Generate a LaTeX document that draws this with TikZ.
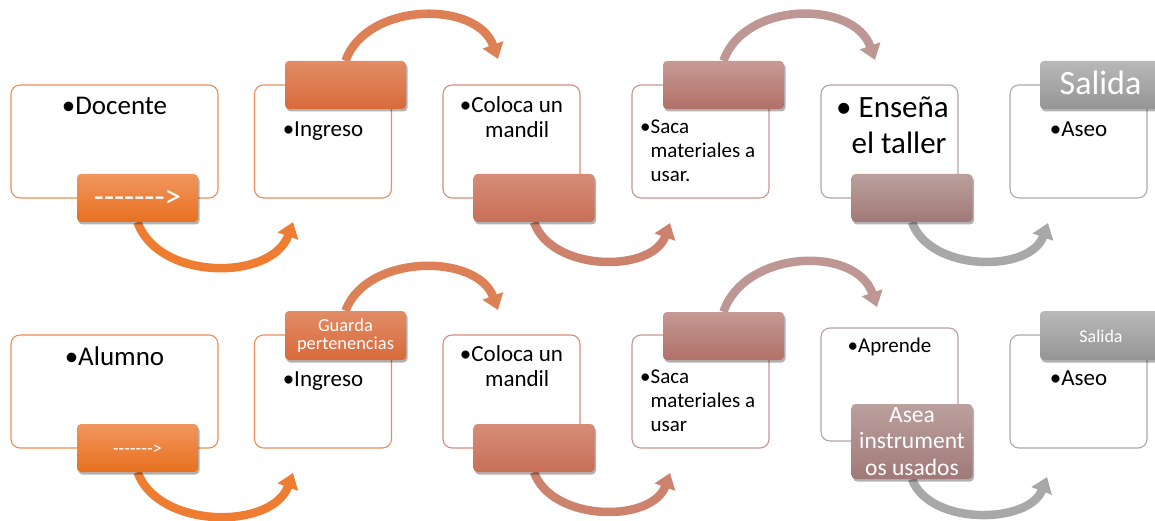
\documentclass[tikz,border=0pt]{standalone}
\usepackage{fontspec}
\setmainfont{Carlito}
\usetikzlibrary{arrows.meta,shadows,backgrounds}
\newcommand\fsz[2]{\fontsize{#1}{#2}\selectfont}
\newcommand\dsh{-\kern0pt-\kern0pt-\kern0pt-\kern0pt-\kern0pt-\kern0pt-\kern0pt>}
\definecolor{bA}{HTML}{F08C50}
\definecolor{bB}{HTML}{EB8C5F}
\definecolor{bC}{HTML}{D78C78}
\definecolor{bD}{HTML}{C89691}
\definecolor{bE}{HTML}{B9A0A0}
\definecolor{bF}{HTML}{AAAAAA}
\definecolor{tAt}{HTML}{F1965E}\definecolor{tAb}{HTML}{E8701F}
\definecolor{tBt}{HTML}{E28C66}\definecolor{tBb}{HTML}{D86A3A}
\definecolor{tCt}{HTML}{D58D77}\definecolor{tCb}{HTML}{C86F58}
\definecolor{tDt}{HTML}{C69A93}\definecolor{tDb}{HTML}{B07068}
\definecolor{tEt}{HTML}{BBA09D}\definecolor{tEb}{HTML}{A07977}
\definecolor{tFt}{HTML}{B8B8B8}\definecolor{tFb}{HTML}{959595}
\definecolor{aA}{HTML}{EE7D32}
\definecolor{aB}{HTML}{DE8055}
\definecolor{aC}{HTML}{CD826E}
\definecolor{aD}{HTML}{BE9694}
\definecolor{aE}{HTML}{A8A8A8}
\begin{document}
\begin{tikzpicture}[x=1pt,y=-1pt,
  box/.style={draw, rounded corners=9pt, line width=1.1pt, fill=white,
    minimum width=137pt, minimum height=113pt, inner sep=0pt},
  tab/.style={rounded corners=4pt, minimum width=121pt, minimum height=48pt,
    inner sep=0pt, text=white,
    drop shadow={shadow xshift=1.5pt, shadow yshift=-2.5pt, opacity=0.3, fill=black}},
  txt/.style={inner sep=0pt, text=black},
  wtxt/.style={inner sep=0pt, text=white},
  arr/.style={line width=8.5pt, -{Triangle[length=15pt,width=21pt]}},
]
\useasboundingbox (0,0) rectangle (1155,521);
\clip (0,0) rectangle (1155,521);

% ---------- boxes top row
\node[box, draw=bA, minimum width=207pt] (b1) at (114.5,141.5) {};
\node[box, draw=bB] (b2) at (323,141.5) {};
\node[box, draw=bC] (b3) at (511.5,141.5) {};
\node[box, draw=bD] (b4) at (700.5,141.5) {};
\node[box, draw=bE] (b5) at (889.5,141.5) {};
\node[box, draw=bF] (b6) at (1078.5,141.5) {};
% ---------- boxes bottom row
\node[box, draw=bA, minimum width=207pt] (c1) at (114.5,391.5) {};
\node[box, draw=bB] (c2) at (323,391.5) {};
\node[box, draw=bC] (c3) at (511.5,391.5) {};
\node[box, draw=bD] (c4) at (700.5,391.5) {};
\node[box, draw=bE] (c5) at (889.5,384.5) {};
\node[box, draw=bF] (c6) at (1078.5,391.5) {};

% ---------- tip coordinates
\coordinate (p1) at (293,222);
\coordinate (p2) at (498,59);
\coordinate (p3) at (670,223);
\coordinate (p4) at (875,60);
\coordinate (p5) at (1048,223);
\coordinate (q1) at (293,473);
\coordinate (q2) at (498,310);
\coordinate (q3) at (670,473);
\coordinate (q4) at (877,307);
\coordinate (q5) at (1047,477);

% ---------- tabs
\node[tab, top color=tAt, bottom color=tAb] (t1) at (137.5,198) {};
\node[tab, top color=tBt, bottom color=tBb] (t2) at (345.5,85) {};
\node[tab, top color=tCt, bottom color=tCb] (t3) at (534,198) {};
\node[tab, top color=tDt, bottom color=tDb] (t4) at (723.5,85) {};
\node[tab, top color=tEt, bottom color=tEb] (t5) at (912,198) {};
\node[tab, top color=tFt, bottom color=tFb] (t6) at (1100.5,85) {};
\node[tab, top color=tAt, bottom color=tAb] (u1) at (137.5,448) {};
\node[tab, top color=tBt, bottom color=tBb, minimum height=49pt] (u2) at (345.5,335.5) {};
\node[tab, top color=tCt, bottom color=tCb] (u3) at (534,448) {};
\node[tab, top color=tDt, bottom color=tDb] (u4) at (723.5,336) {};
\node[tab, top color=tEt, bottom color=tEb, minimum height=75pt] (u5) at (912,441.5) {};
\node[tab, top color=tFt, bottom color=tFb, minimum height=49pt] (u6) at (1100.5,335.5) {};

% ---------- arrows (behind everything)
\begin{pgfonlayer}{background}
\draw[arr, aA] (t1.south) .. controls +(21,59) and +(-21,59) .. (p1);
\draw[arr, aB] (t2.north) .. controls +(21,-59) and +(-21,-59) .. (p2);
\draw[arr, aC] (t3.south) .. controls +(18,50) and +(-18,50) .. (p3);
\draw[arr, aD] (t4.north) .. controls +(21,-60) and +(-21,-60) .. (p4);
\draw[arr, aE] (t5.south) .. controls +(18,50) and +(-18,50) .. (p5);
\draw[arr, aA] (u1.south) .. controls +(21,57) and +(-21,57) .. (q1);
\draw[arr, aB] (u2.north) .. controls +(21,-57) and +(-21,-57) .. (q2);
\draw[arr, aC] (u3.south) .. controls +(18,50) and +(-18,50) .. (q3);
\draw[arr, aD] (u4.north) .. controls +(21,-62) and +(-21,-62) .. (q4);
\draw[arr, aE] (u5.south) .. controls +(18,47) and +(-18,47) .. (q5);
\end{pgfonlayer}

% ---------- texts top row
\node[txt, font=\fsz{27}{32}, anchor=base] (x1) at (114.5,115) {•Docente};
\node[txt, font=\fsz{23}{27}, anchor=base] (x2) at (323,137) {•Ingreso};
\node[txt, font=\fsz{23}{25}, align=center, anchor=base] (x3) at (511.5,138) {•Coloca un\\\hphantom{•}mandil};
\node[txt, font=\fsz{21}{24}, align=left, anchor=base west] (x4) at (640,182) {•Saca\\\hphantom{•}materiales a\\\hphantom{•}usar.};
\node[txt, font=\fsz{31}{36}, align=left, anchor=base west] (x5) at (836,154) {•~Enseña\\\hphantom{•}el taller};
\node[txt, font=\fsz{23}{27}, anchor=base] (x6) at (1078.5,137) {•Aseo};
\node[wtxt, font=\fsz{33}{36}, anchor=base] (y1) at (137.5,207.5) {\dsh};
\node[wtxt, font=\fsz{34}{38}, anchor=base] (y6) at (1100.5,95) {Salida};

% ---------- texts bottom row
\node[txt, font=\fsz{27}{32}, anchor=base] (z1) at (114.5,365) {•Alumno};
\node[txt, font=\fsz{23}{27}, anchor=base] (z2) at (323,386) {•Ingreso};
\node[txt, font=\fsz{23}{25}, align=center, anchor=base] (z3) at (511.5,386) {•Coloca un\\\hphantom{•}mandil};
\node[txt, font=\fsz{21}{24}, align=left, anchor=base west] (z4) at (640,431) {•Saca\\\hphantom{•}materiales a\\\hphantom{•}usar};
\node[txt, font=\fsz{21}{25}, anchor=base] (z5) at (889.5,352) {•Aprende};
\node[txt, font=\fsz{23}{27}, anchor=base] (z6) at (1078.5,385) {•Aseo};
\node[wtxt, font=\fsz{18.5}{22}, anchor=base] (w1) at (137.5,454) {\dsh};
\node[wtxt, font=\fsz{18.4}{18}, align=center, anchor=base] (w2) at (345.5,349) {Guarda\\pertenencias};
\node[wtxt, font=\fsz{23.5}{26.5}, align=center, anchor=base] (w5) at (912,475) {Asea\\instrument\\os usados};
\node[wtxt, font=\fsz{18}{22}, anchor=base] (w6) at (1101,342) {Salida};
\end{tikzpicture}
\end{document}
